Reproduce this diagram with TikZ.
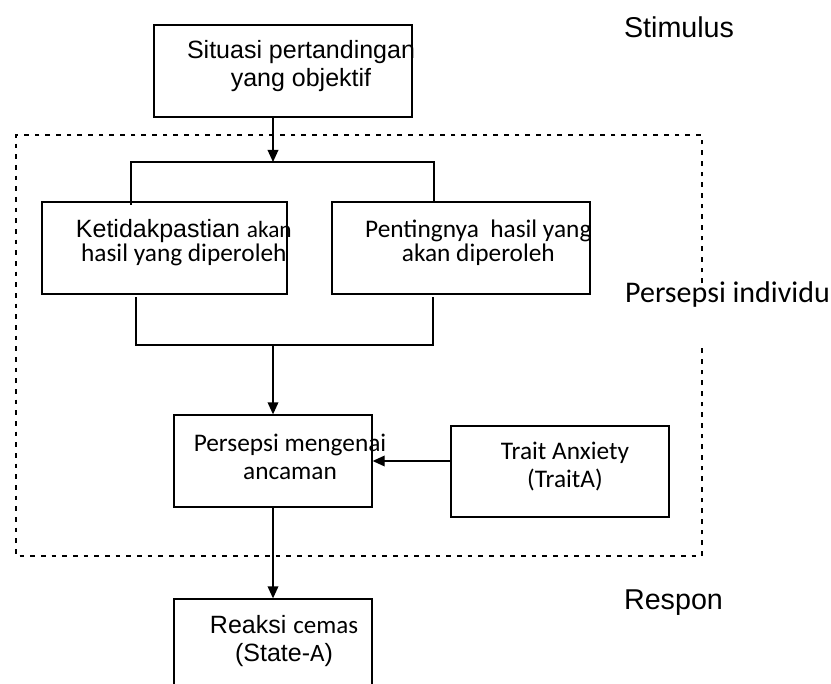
\documentclass[tikz,border=0pt]{standalone}
\usepackage{fontspec}
\setmainfont{Liberation Sans}
\newfontfamily\calibri{Carlito}
\usetikzlibrary{arrows.meta}

\begin{document}
\begin{tikzpicture}[x=0.75pt,y=-0.75pt,
  box/.style={draw, rectangle, line width=1pt, minimum height=69pt, inner sep=0pt},
  conn/.style={line width=1pt},
  arr/.style={conn, -{Triangle[length=9pt,width=8pt]}},
  arialtxt/.style={align=center, inner sep=0pt, font=\fontsize{18.75}{21}\selectfont},
  calibritxt/.style={align=center, inner sep=0pt, font=\calibri\fontsize{19}{21}\selectfont},
  sidelabel/.style={inner sep=0pt, font=\fontsize{21.5}{24}\selectfont}
]
\useasboundingbox (0,0) rectangle (831,684);
\clip (0,0) rectangle (831,684);

% Boxes
\node[box, minimum width=193.5pt,
  label={[arialtxt, xshift=13.5pt, yshift=3.5pt]center:{Situasi pertandingan\\yang objektif}}]
  (situasi) at (283,71) {};

\node[box, minimum width=183.75pt,
  label={[arialtxt, xshift=14.5pt, yshift=4pt, font=\fontsize{18.75}{18.5}\selectfont]center:{Ketidakpastian {\calibri\fontsize{17.5}{18.5}\selectfont akan}\\{\calibri\fontsize{19}{18.5}\selectfont hasil yang diperoleh}}}]
  (ketidakpastian) at (164.5,248) {};

\node[box, minimum width=193.5pt,
  label={[calibritxt, xshift=13pt, yshift=4pt, font=\calibri\fontsize{19}{18.5}\selectfont]center:{Pentingnya\ \ hasil yang\\akan diperoleh}}]
  (pentingnya) at (461,248) {};

\node[box, minimum width=148.5pt,
  label={[calibritxt, xshift=12.75pt, yshift=3pt]center:{Persepsi mengenai\\ancaman}}]
  (persepsi) at (273,461) {};

\node[box, minimum width=163.5pt, minimum height=68.25pt,
  label={[calibritxt, xshift=3.75pt, yshift=3.75pt]center:{Trait Anxiety\\(TraitA)}}]
  (trait) at (560,471.5) {};

\node[box, minimum width=148.5pt,
  label={[arialtxt, xshift=8.25pt, yshift=3pt]center:{Reaksi {\calibri cemas}\\(State-{\calibri A})}}]
  (reaksi) at (273,645) {};

% Side labels
\node[sidelabel] (stimulus) at (679,27) {Stimulus};
\node[sidelabel, font=\calibri\fontsize{22.5}{24}\selectfont] (individu) at (727.5,295) {Persepsi individu};
\node[sidelabel] (respon) at (673.5,603) {Respon};

% Dashed frame, open where its label sits
\draw[line width=1pt, dash pattern=on 3.5pt off 4.5pt]
  (702,283) -- (702,135) -- (16,135) -- (16,556) -- (702,556) -- (702,343);

% Split bar
\coordinate (split) at (273,162);
\coordinate (splitL) at (131,162);
\coordinate (splitR) at (434,162);
\coordinate (tickTL) at (131,205);
\draw[arr] (situasi.south -| split) -- (split);
\draw[conn] (tickTL) -- (splitL) -- (splitR) -- (splitR |- pentingnya.north);

% Join bar
\coordinate (join) at (273,345);
\coordinate (joinL) at (136,345);
\coordinate (joinR) at (433,345);
\coordinate (tickBL) at (136,297);
\coordinate (tickBR) at (433,297);
\draw[conn] (tickBL) -- (joinL) -- (joinR) -- (tickBR);
\draw[arr] (join) -- (persepsi);

% Arrows
\draw[arr] (trait.west |- persepsi.east) -- (persepsi.east);
\draw[arr] (persepsi) -- (reaksi);

\end{tikzpicture}
\end{document}
